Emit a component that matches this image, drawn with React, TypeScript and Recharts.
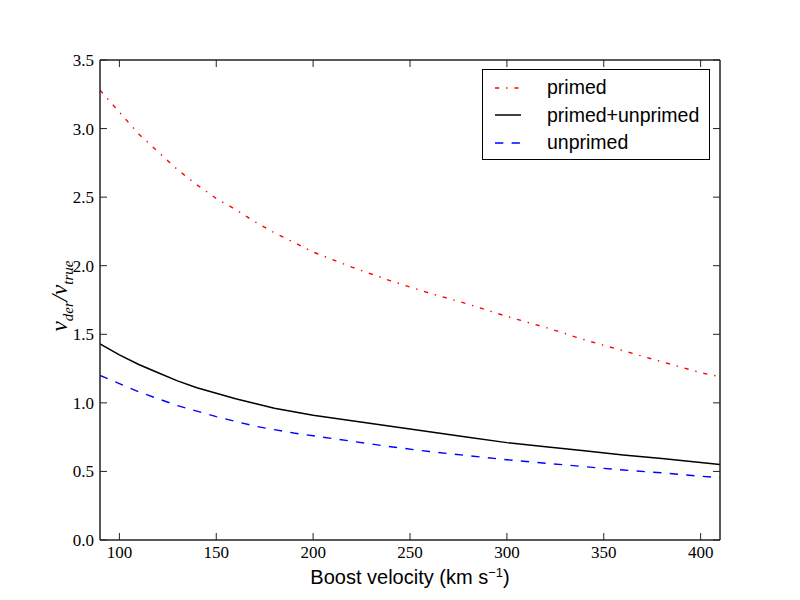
import { Line, LineChart, XAxis, YAxis } from "recharts";

// boost velocity (km/s)
const velocity = [90, 100, 110, 120, 130, 140, 150, 160, 170, 180, 190, 200, 220, 240, 260, 280, 300, 320, 340, 360, 380, 400, 410];
const primed = [3.28, 3.12, 2.96, 2.83, 2.7, 2.59, 2.49, 2.41, 2.32, 2.24, 2.17, 2.1, 1.99, 1.89, 1.8, 1.72, 1.63, 1.55, 1.46, 1.38, 1.3, 1.22, 1.19];
const primedUnprimed = [1.43, 1.35, 1.28, 1.22, 1.16, 1.11, 1.07, 1.03, 0.995, 0.96, 0.935, 0.91, 0.87, 0.83, 0.79, 0.75, 0.71, 0.68, 0.65, 0.62, 0.595, 0.565, 0.55];
const unprimed = [1.2, 1.14, 1.08, 1.03, 0.98, 0.94, 0.9, 0.865, 0.83, 0.805, 0.78, 0.76, 0.72, 0.68, 0.645, 0.615, 0.585, 0.56, 0.535, 0.51, 0.49, 0.465, 0.455];

const xTicks = [100, 150, 200, 250, 300, 350, 400];
const yTicks = [0, 0.5, 1, 1.5, 2, 2.5, 3, 3.5];

const legendItems = [
  { label: "primed", color: "#ff0000", dash: "4.2 6.9 1.4 6.9" },
  { label: "primed+unprimed", color: "#000000", dash: undefined },
  { label: "unprimed", color: "#0000ff", dash: "8.3 8.3" },
];

const data = velocity.map((v, i) => ({
  v,
  primed: primed[i],
  both: primedUnprimed[i],
  unprimed: unprimed[i],
}));

const tickFont = { fontFamily: "Liberation Serif", fontSize: 17, fill: "#000" };
const axisColor = "#222";

function LegendBox() {
  return (
    <div
      style={{
        position: "absolute",
        left: 482,
        top: 69,
        width: 228,
        height: 91,
        border: "1px solid #000",
        background: "#fff",
        boxSizing: "border-box",
        padding: "4px 0 0 12px",
        fontFamily: "Liberation Sans",
        fontSize: 19.5,
      }}
    >
      {legendItems.map((item) => (
        <div key={item.label} style={{ display: "flex", alignItems: "center", height: 27.5 }}>
          <svg width={26} height={10} style={{ marginRight: 26 }}>
            <line
              x1={0}
              y1={5}
              x2={26}
              y2={5}
              stroke={item.color}
              strokeWidth={1.5}
              strokeDasharray={item.dash}
            />
          </svg>
          <span>{item.label}</span>
        </div>
      ))}
    </div>
  );
}

export default function App() {
  return (
    <div style={{ position: "relative", width: 800, height: 600, background: "#fff" }}>
      <style>{"body{margin:0}"}</style>
      <LineChart
        width={800}
        height={600}
        data={data}
        margin={{ top: 30, right: 40, bottom: 0, left: 0 }}
      >
        <XAxis
          dataKey="v"
          type="number"
          domain={[90, 410]}
          allowDataOverflow
          ticks={xTicks}
          height={60}
          tick={tickFont}
          tickSize={-7}
          tickMargin={13}
          axisLine={{ stroke: axisColor, strokeWidth: 1.5 }}
          tickLine={{ stroke: axisColor }}
        />
        <XAxis
          xAxisId="top"
          orientation="top"
          dataKey="v"
          type="number"
          domain={[90, 410]}
          allowDataOverflow
          ticks={xTicks}
          height={30}
          tickFormatter={() => ""}
          tickSize={-7}
          axisLine={{ stroke: axisColor, strokeWidth: 1.5 }}
          tickLine={{ stroke: axisColor }}
        />
        <YAxis
          type="number"
          domain={[0, 3.5]}
          allowDataOverflow
          ticks={yTicks}
          width={100}
          tick={tickFont}
          tickFormatter={(t: number) => t.toFixed(1)}
          tickSize={-7}
          tickMargin={13}
          axisLine={{ stroke: axisColor, strokeWidth: 1.5 }}
          tickLine={{ stroke: axisColor }}
        />
        <YAxis
          yAxisId="right"
          orientation="right"
          type="number"
          domain={[0, 3.5]}
          allowDataOverflow
          ticks={yTicks}
          width={40}
          tickFormatter={() => ""}
          tickSize={-7}
          axisLine={{ stroke: axisColor, strokeWidth: 1.5 }}
          tickLine={{ stroke: axisColor }}
        />
        <Line
          dataKey="primed"
          type="linear"
          stroke="#ff0000"
          strokeWidth={1.4}
          strokeDasharray="4.2 6.9 1.4 6.9"
          dot={false}
          isAnimationActive={false}
        />
        <Line
          dataKey="both"
          type="linear"
          stroke="#000000"
          strokeWidth={1.5}
          dot={false}
          isAnimationActive={false}
        />
        <Line
          dataKey="unprimed"
          type="linear"
          stroke="#0000ff"
          strokeWidth={1.4}
          strokeDasharray="8.3 8.3"
          dot={false}
          isAnimationActive={false}
        />
      </LineChart>
      <LegendBox />
      <div
        style={{
          position: "absolute",
          left: 410,
          top: 577,
          transform: "translate(-50%, -50%)",
          fontFamily: "Liberation Sans",
          fontSize: 20,
          whiteSpace: "nowrap",
        }}
      >
        Boost velocity (km s<sup style={{ fontSize: 13 }}>−1</sup>)
      </div>
      <div
        style={{
          position: "absolute",
          left: 62,
          top: 296,
          transform: "translate(-50%, -50%) rotate(-90deg)",
          fontFamily: "Liberation Serif",
          fontStyle: "italic",
          fontSize: 23,
          whiteSpace: "nowrap",
        }}
      >
        v<sub style={{ fontSize: 15 }}>der</sub>/v<sub style={{ fontSize: 15 }}>true</sub>
      </div>
    </div>
  );
}
